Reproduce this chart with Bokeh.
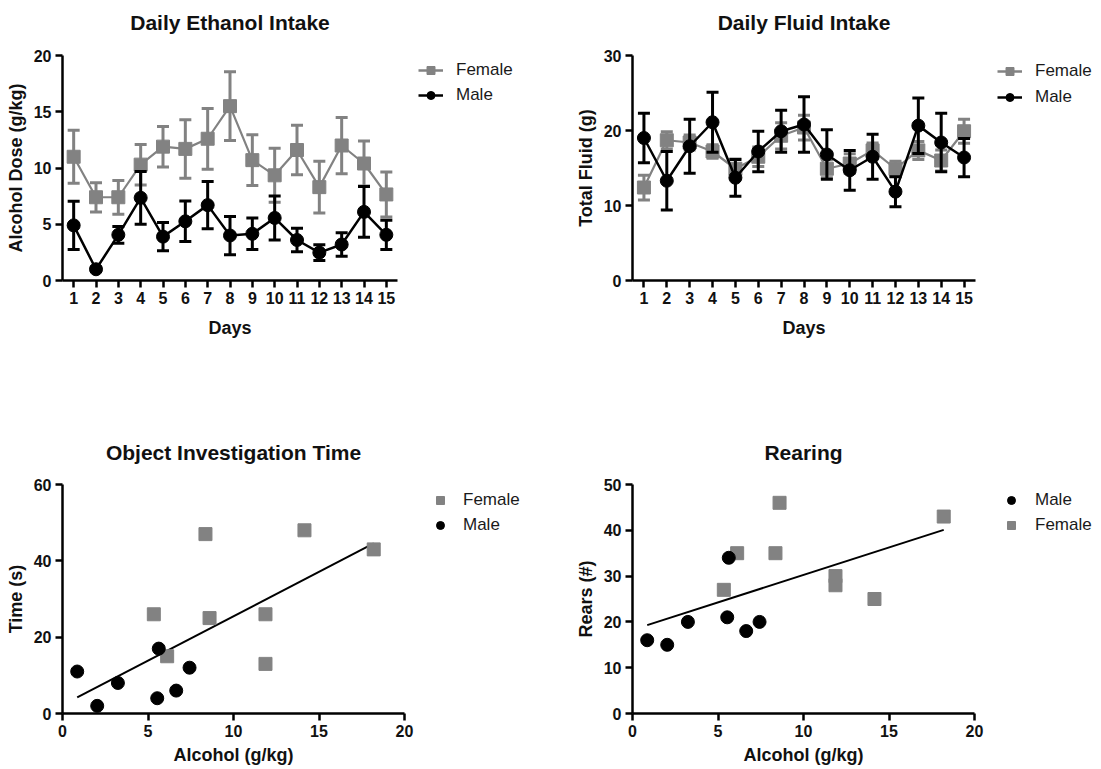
from bokeh.plotting import figure
from bokeh.layouts import column, row
from bokeh.models import Legend, LegendItem, FixedTicker, Range1d, LinearAxis
from bokeh.embed import file_html
from bokeh.resources import INLINE
import numpy as np

# ---------------- data ----------------
days = list(range(1, 16))
day_ticks = list(range(1, 16))

etoh_female = [11.0, 7.4, 7.4, 10.3, 11.9, 11.7, 12.6, 15.5, 10.7, 9.35, 11.6, 8.3, 12.0, 10.4, 7.65]
etoh_female_sem = [2.35, 1.3, 1.5, 1.8, 1.8, 2.6, 2.7, 3.05, 2.25, 2.4, 2.2, 2.3, 2.5, 2.0, 2.0]
etoh_male = [4.9, 1.0, 4.06, 7.35, 3.9, 5.26, 6.7, 4.0, 4.15, 5.56, 3.6, 2.48, 3.2, 6.1, 4.06]
etoh_male_sem = [2.15, 0.2, 0.75, 2.35, 1.25, 1.8, 2.1, 1.7, 1.4, 1.95, 1.05, 0.7, 1.05, 2.25, 1.3]

fluid_female = [12.4, 18.7, 18.4, 17.2, 14.9, 16.5, 19.3, 20.4, 14.9, 15.6, 17.35, 14.9, 17.35, 16.0, 19.9]
fluid_female_sem = [1.65, 1.15, 1.0, 0.9, 1.3, 1.3, 1.75, 1.65, 1.2, 1.3, 1.0, 1.0, 1.2, 1.4, 1.6]
fluid_male = [19.0, 13.3, 17.9, 21.1, 13.7, 17.2, 19.9, 20.8, 16.8, 14.7, 16.5, 11.85, 20.65, 18.4, 16.4]
fluid_male_sem = [3.3, 3.9, 3.6, 4.0, 2.45, 2.7, 2.8, 3.7, 3.3, 2.65, 3.0, 2.0, 3.7, 3.9, 2.55]

alcohol_male = [0.86, 2.03, 3.24, 5.63, 5.54, 6.65, 7.43]
alcohol_female = [5.34, 6.12, 8.36, 8.6, 11.87, 11.87, 14.15, 18.2]
object_male = [11, 2, 8, 17, 4, 6, 12]
object_female = [26, 15, 47, 25, 26, 13, 48, 43]
rears_male = [16, 15, 20, 34, 21, 18, 20]
rears_female = [27, 35, 35, 46, 30, 28, 25, 43]

etoh_ticks = [0, 5, 10, 15, 20]
fluid_ticks = [0, 10, 20, 30]
alcohol_ticks = [0, 5, 10, 15, 20]
object_ticks = [0, 20, 40, 60]
rears_ticks = [0, 10, 20, 30, 40, 50]

# ---------------- style ----------------
FONT = "Liberation Sans"
GRAY = "#828282"
BLACK = "#000000"
TXT = "#111111"


def make_fig(w, h, bl, br, bt, bb, xr, yr, title, title_gap,
             xticks, yticks, xlabel, ylabel, xlabel_gap):
    p = figure(width=w, height=h, x_range=Range1d(*xr), y_range=Range1d(*yr),
               output_backend="svg", toolbar_location=None,
               min_border_left=bl, min_border_right=br,
               min_border_top=bt, min_border_bottom=bb)
    p.grid.visible = False
    p.outline_line_color = None
    xa = p.below[0]
    ya = p.left[0]
    for ax in [xa, ya]:
        ax.axis_line_width = 2.5
        ax.axis_line_color = BLACK
        ax.major_tick_line_width = 2.5
        ax.major_tick_line_color = BLACK
        ax.major_tick_out = 7
        ax.major_tick_in = 0
        ax.minor_tick_line_color = None
        ax.major_label_text_font = FONT
        ax.major_label_text_font_style = "bold"
        ax.major_label_text_font_size = "16px"
        ax.major_label_text_color = TXT
        ax.axis_label_text_font = FONT
        ax.axis_label_text_font_style = "bold"
        ax.axis_label_text_font_size = "18px"
        ax.axis_label_text_color = TXT
    xa.ticker = FixedTicker(ticks=xticks)
    ya.ticker = FixedTicker(ticks=yticks)
    xa.axis_label = xlabel
    ya.axis_label = ylabel
    xa.major_label_standoff = 4
    ya.major_label_standoff = 4
    ya.axis_label_standoff = 5
    xa.axis_label_standoff = xlabel_gap
    # chart title drawn as the label of a bare axis above the frame
    tax = LinearAxis(ticker=FixedTicker(ticks=[]), axis_label=title)
    tax.axis_line_color = None
    tax.major_tick_line_color = None
    tax.minor_tick_line_color = None
    tax.major_tick_out = 0
    tax.major_tick_in = 0
    tax.major_label_standoff = 0
    tax.major_label_text_font_size = "0px"
    tax.axis_label_standoff = title_gap
    tax.axis_label_text_font = FONT
    tax.axis_label_text_font_style = "bold"
    tax.axis_label_text_font_size = "21px"
    tax.axis_label_text_color = TXT
    p.add_layout(tax, "above")
    return p


def legend_fig(w, h, bt, specs, x_off, gap, glyph_w, spacing, standoff):
    # a bare figure holding only the legend; its renderers sit outside its view
    lf = figure(width=w, height=h, x_range=Range1d(-200, -100), y_range=Range1d(-200, -100),
                output_backend="svg", toolbar_location=None,
                x_axis_location=None, y_axis_location=None,
                min_border_left=x_off, min_border_right=0,
                min_border_top=bt, min_border_bottom=0)
    lf.grid.visible = False
    lf.outline_line_color = None
    items = []
    for label, color, marker, with_line, xs, ys in specs:
        rs = []
        if with_line:
            rs.append(lf.line(x=xs, y=ys, line_color=color, line_width=2.5))
        rs.append(lf.scatter(x=xs, y=ys, marker=marker, size=13, fill_color=color, line_color=color))
        items.append(LegendItem(label=label, renderers=rs))
    leg = Legend(items=items, location="top_left",
                 margin=gap, padding=0, spacing=spacing,
                 glyph_width=glyph_w, glyph_height=20, label_height=20,
                 label_standoff=standoff, label_text_font=FONT,
                 label_text_font_size="17px", label_text_color="#1a1a1a",
                 border_line_color=None, background_fill_alpha=0)
    lf.add_layout(leg, "center")
    return lf


def err_series(p, x, y, sem, color, marker, lw):
    lo = [a - b for a, b in zip(y, sem)]
    hi = [a + b for a, b in zip(y, sem)]
    p.segment(x0=x, y0=lo, x1=x, y1=hi, line_color=color, line_width=3)
    p.scatter(x + x, lo + hi, marker="dash", size=12, line_color=color, line_width=3)
    p.line(x, y, line_color=color, line_width=lw)
    p.scatter(x, y, marker=marker, size=13, fill_color=color, line_color=color)


def fit_line(p, xs, ys):
    xs = np.array(xs, dtype=float)
    ys = np.array(ys, dtype=float)
    k, b = np.polyfit(xs, ys, 1)
    xl = [float(xs.min()), float(xs.max())]
    p.line(xl, [k * xl[0] + b, k * xl[1] + b], line_color=BLACK, line_width=2)


# ---------------- panel 1: Daily Ethanol Intake ----------------
p1 = make_fig(409, 385, 62, 12, 55, 105, (0.5, 15.5), (0, 20), "Daily Ethanol Intake", 22,
              day_ticks, etoh_ticks, "Days", "Alcohol Dose (g/kg)", 11)
err_series(p1, days, etoh_female, etoh_female_sem, GRAY, "square", 2.2)
err_series(p1, days, etoh_male, etoh_male_sem, BLACK, "circle", 2.5)
l1 = legend_fig(141, 385, 55, [("Female", GRAY, "square", True, days, etoh_female),
                               ("Male", BLACK, "circle", True, days, etoh_male)],
                4, 5, 25, 5, 13)

# ---------------- panel 2: Daily Fluid Intake ----------------
p2 = make_fig(437, 385, 82, 12, 55, 105, (0.5, 15.5), (0, 30), "Daily Fluid Intake", 22,
              day_ticks, fluid_ticks, "Days", "Total Fluid (g)", 11)
err_series(p2, days, fluid_female, fluid_female_sem, GRAY, "square", 2.2)
err_series(p2, days, fluid_male, fluid_male_sem, BLACK, "circle", 2.5)
l2 = legend_fig(114, 385, 55, [("Female", GRAY, "square", True, days, fluid_female),
                               ("Male", BLACK, "circle", True, days, fluid_male)],
                4, 6, 25, 6, 13)

# ---------------- panel 3: Object Investigation Time ----------------
p3 = make_fig(416, 384, 62, 12, 99, 56, (0, 20), (0, 60), "Object Investigation Time", 21,
              alcohol_ticks, object_ticks, "Alcohol (g/kg)", "Time (s)", 5)
fit_line(p3, alcohol_male + alcohol_female, object_male + object_female)
p3.scatter(alcohol_female, object_female, marker="square", size=13, fill_color=GRAY, line_color=GRAY)
p3.scatter(alcohol_male, object_male, marker="circle", size=13, fill_color=BLACK, line_color=BLACK)
l3 = legend_fig(134, 384, 99, [("Female", GRAY, "square", False, alcohol_female, object_female),
                               ("Male", BLACK, "circle", False, alcohol_male, object_male)],
                8, 6, 20, 5, 13)

# ---------------- panel 4: Rearing ----------------
p4 = make_fig(436, 384, 82, 12, 99, 56, (0, 20), (0, 50), "Rearing", 21,
              alcohol_ticks, rears_ticks, "Alcohol (g/kg)", "Rears (#)", 5)
fit_line(p4, alcohol_male + alcohol_female, rears_male + rears_female)
p4.scatter(alcohol_female, rears_female, marker="square", size=13, fill_color=GRAY, line_color=GRAY)
p4.scatter(alcohol_male, rears_male, marker="circle", size=13, fill_color=BLACK, line_color=BLACK)
l4 = legend_fig(115, 384, 99, [("Male", BLACK, "circle", False, alcohol_male, rears_male),
                               ("Female", GRAY, "square", False, alcohol_female, rears_female)],
                9, 6, 20, 5, 14)

layout = column(row(p1, l1, p2, l2), row(p3, l3, p4, l4))
open("out.html", "w").write(file_html(layout, INLINE))
